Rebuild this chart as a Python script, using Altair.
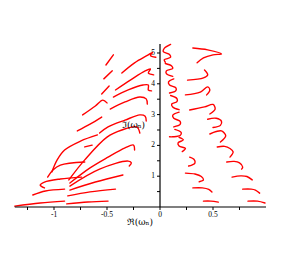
import altair as alt
import pandas as pd

# ---- curve data (Re(omega), Im(omega)) ----
LEFT_CURVES = [
    [(-1.37, 0.03), (-1.13, 0.13), (-0.90, 0.19)],
    [(-1.20, 0.39), (-1.08, 0.52), (-0.90, 0.58)],
    [(-1.09, 0.62), (-1.13, 0.71), (-1.09, 0.81), (-0.94, 0.91), (-0.74, 0.97)],
    [(-1.06, 0.97), (-1.01, 1.20), (-0.94, 1.36), (-0.71, 1.46)],
    [(-1.02, 1.14), (-0.97, 1.53), (-0.90, 1.85), (-0.75, 2.14), (-0.59, 2.34)],
    [(-0.71, 1.95), (-0.64, 2.01)],
    [(-0.78, 2.47), (-0.66, 2.69), (-0.55, 2.92)],
    [(-0.73, 2.99), (-0.61, 3.28), (-0.54, 3.47), (-0.50, 3.38)],
    [(-0.55, 3.67), (-0.48, 3.93)],
    [(-0.53, 4.16), (-0.45, 4.42)],
    [(-0.51, 4.61), (-0.44, 4.94)],
]

FAN_CURVES = [
    [(-0.88, 0.10), (-0.68, 0.16), (-0.49, 0.19)],
    [(-0.87, 0.36), (-0.66, 0.49), (-0.42, 0.58)],
    [(-0.85, 0.55), (-0.61, 0.81), (-0.35, 1.04)],
    [(-0.85, 0.68), (-0.57, 1.23), (-0.30, 1.49), (-0.27, 1.43), (-0.29, 1.33)],
    [(-0.85, 0.78), (-0.66, 1.27), (-0.49, 1.62), (-0.33, 1.92), (-0.25, 2.01), (-0.24, 1.85)],
    [(-0.86, 0.88), (-0.71, 1.53), (-0.50, 2.27), (-0.36, 2.50), (-0.22, 2.60), (-0.19, 2.40)],
]

HOOK_CURVES = [
    [(-0.36, 4.35), (-0.24, 4.68), (-0.12, 4.92), (-0.07, 5.02), (-0.09, 4.92), (-0.04, 4.86)],
    [(-0.42, 3.80), (-0.28, 4.12), (-0.14, 4.42), (-0.09, 4.48), (-0.11, 4.35), (-0.06, 4.29)],
    [(-0.44, 3.57), (-0.30, 3.80), (-0.16, 3.96), (-0.11, 3.96), (-0.11, 3.80), (-0.08, 3.77)],
    [(-0.47, 3.18), (-0.33, 3.41), (-0.19, 3.57), (-0.13, 3.51), (-0.12, 3.34)],
    [(-0.57, 2.40), (-0.49, 2.60), (-0.33, 2.82), (-0.19, 2.99), (-0.14, 2.95), (-0.13, 2.79)],
]

CHAIN_CURVES = [
    [(0.10, 5.28), (0.04, 5.15), (0.03, 5.05), (0.09, 4.95), (0.10, 4.86), (0.04, 4.78), (0.05, 4.70)],
    [(0.05, 4.66), (0.11, 4.58), (0.12, 4.50), (0.06, 4.42), (0.06, 4.33), (0.12, 4.24)],
    [(0.13, 4.16), (0.08, 4.06), (0.09, 3.96), (0.15, 3.87), (0.15, 3.78), (0.09, 3.70)],
    [(0.10, 3.62), (0.16, 3.52), (0.16, 3.42), (0.11, 3.34), (0.12, 3.25), (0.18, 3.16)],
    [(0.18, 3.08), (0.12, 2.98), (0.13, 2.88), (0.19, 2.78), (0.19, 2.68), (0.13, 2.60)],
    [(0.14, 2.52), (0.20, 2.42), (0.19, 2.32), (0.12, 2.28), (0.09, 2.28)],
    [(0.18, 2.26), (0.22, 2.18), (0.17, 2.08), (0.18, 1.98), (0.24, 1.90), (0.21, 1.80)],
]

MIDDLE_ARCS = [
    [(0.41, 0.19), (0.48, 0.19), (0.55, 0.16)],
    [(0.31, 0.62), (0.40, 0.62), (0.46, 0.57), (0.49, 0.49)],
    [(0.24, 1.10), (0.33, 1.07), (0.39, 0.99), (0.41, 0.88), (0.37, 0.82)],
    [(0.28, 1.62), (0.32, 1.55), (0.33, 1.43), (0.30, 1.36), (0.27, 1.33)],
]

RIGHT_ARCS = [
    [(0.83, 0.19), (0.92, 0.19), (0.99, 0.13)],
    [(0.78, 0.58), (0.86, 0.58), (0.90, 0.55), (0.94, 0.45)],
    [(0.68, 0.97), (0.76, 1.01), (0.82, 0.99), (0.87, 0.88)],
    [(0.63, 1.46), (0.70, 1.48), (0.75, 1.43), (0.78, 1.30), (0.77, 1.23)],
    [(0.54, 1.95), (0.61, 1.97), (0.66, 1.90), (0.69, 1.79), (0.66, 1.62)],
    [(0.47, 2.37), (0.53, 2.45), (0.58, 2.47), (0.62, 2.31), (0.57, 2.11)],
    [(0.45, 2.85), (0.53, 2.88), (0.58, 2.78), (0.57, 2.65), (0.50, 2.58)],
    [(0.28, 3.15), (0.42, 3.25), (0.50, 3.33), (0.52, 3.18), (0.47, 3.02)],
    [(0.24, 3.64), (0.38, 3.73), (0.45, 3.90), (0.47, 3.80), (0.44, 3.64)],
    [(0.26, 4.12), (0.41, 4.19), (0.45, 4.29), (0.42, 4.45)],
    [(0.31, 5.16), (0.45, 5.10), (0.58, 4.97), (0.50, 4.94), (0.41, 4.84), (0.35, 4.68)],
]

# ---- axes ----
X_AXIS_RANGE = [-1.37, 1.0]
Y_AXIS_RANGE = [0.0, 5.29]
X_TICKS = [-1.25, -1.0, -0.75, -0.5, -0.25, 0.0, 0.25, 0.5, 0.75]
X_LABEL_VALUES = [-1.0, -0.5, 0.0, 0.5]
X_LABELS = ["-1", "-0.5", "0", "0.5"]
Y_TICKS = [0.5, 1.0, 1.5, 2.0, 2.5, 3.0, 3.5, 4.0, 4.5, 5.0]
Y_LABEL_VALUES = [1, 2, 3, 4, 5]
Y_LABELS = ["1", "2", "3", "4", "5"]
TITLE_TEXTS = ["\u211c(\u03c9\u2099)", "\u2111(\u03c9\u2099)"]
TITLE_X = [-0.19, -0.25]
TITLE_Y = [-0.49, 2.65]

rows = []
groups = {"L": LEFT_CURVES, "F": FAN_CURVES, "H": HOOK_CURVES, "C": CHAIN_CURVES,
          "M": MIDDLE_ARCS, "R": RIGHT_ARCS}
for g, curves in groups.items():
    for i, c in enumerate(curves):
        for j, (x, y) in enumerate(c):
            rows.append({"cid": f"{g}{i}", "ord": j, "x": x, "y": y})
df = pd.DataFrame(rows)

xs = alt.Scale(domain=[-1.434, 1.1415], nice=False, zero=False)
ys = alt.Scale(domain=[-1.656, 6.461], nice=False, zero=False)
X = lambda f: alt.X(f, type="quantitative", scale=xs, axis=None)
Y = lambda f: alt.Y(f, type="quantitative", scale=ys, axis=None)

lines = alt.Chart(df).mark_line(
    color="#ff0000", strokeWidth=1.4, interpolate="catmull-rom", strokeCap="round"
).encode(x=X("x"), y=Y("y"), detail="cid:N", order="ord:Q")

axes_df = pd.DataFrame({
    "x": [X_AXIS_RANGE[0], 0.0], "x2": [X_AXIS_RANGE[1], 0.0],
    "y": [0.0, Y_AXIS_RANGE[0]], "y2": [0.0, Y_AXIS_RANGE[1]],
})
axis_lines = alt.Chart(axes_df).mark_rule(color="#000000", strokeWidth=1.2).encode(
    x=X("x"), x2="x2:Q", y=Y("y"), y2="y2:Q")

xt = alt.Chart(pd.DataFrame({"v": X_TICKS, "z": 0.0})).mark_rule(
    color="#000000", strokeWidth=1, y2Offset=3).encode(x=X("v"), y=Y("z"), y2="z:Q")
yt = alt.Chart(pd.DataFrame({"v": Y_TICKS, "z": 0.0})).mark_rule(
    color="#000000", strokeWidth=1, x2Offset=-3).encode(y=Y("v"), x=X("z"), x2="z:Q")

xl = alt.Chart(pd.DataFrame({"v": X_LABEL_VALUES, "t": X_LABELS, "z": 0.0})).mark_text(
    dy=8, baseline="middle", fontSize=7.5, font="Liberation Serif", color="#000000"
).encode(x=X("v"), y=Y("z"), text="t:N")
yl = alt.Chart(pd.DataFrame({"v": Y_LABEL_VALUES, "t": Y_LABELS, "z": 0.0})).mark_text(
    dx=-5, align="right", baseline="middle", fontSize=7.5, font="Liberation Serif", color="#000000"
).encode(y=Y("v"), x=X("z"), text="t:N")

titles = alt.Chart(pd.DataFrame({"x": TITLE_X, "y": TITLE_Y, "t": TITLE_TEXTS})).mark_text(
    fontSize=9, font="DejaVu Serif", color="#000000", baseline="middle"
).encode(x=X("x"), y=Y("y"), text="t:N")

chart = alt.layer(lines, axis_lines, xt, yt, xl, yl, titles).properties(
    width=273, height=250, autosize="none", padding=0, background="white"
).configure_view(stroke=None)

chart.save("out.html", embed_options={"renderer": "svg", "actions": False})
